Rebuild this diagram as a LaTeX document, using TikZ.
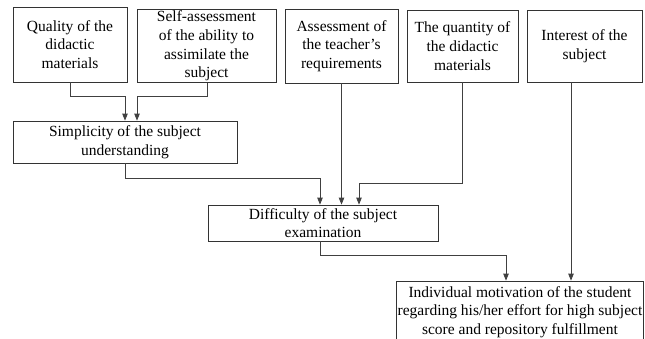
\documentclass[tikz,border=0pt]{standalone}
\usepackage{fontspec}
\setmainfont{Liberation Serif}
\usetikzlibrary{arrows.meta}

\tikzset{
	factor/.style={draw=black!80, line width=0.8pt, align=center, inner sep=1pt,
		font=\fontsize{15.5}{18.7}\selectfont},
	arr/.style={draw=black!75, line width=0.8pt, -{Triangle[length=7pt,width=5.5pt]}}
}

\begin{document}
\begin{tikzpicture}[x=1pt,y=-1pt]
\clip (0,0) rectangle (645,338);

% top row of factors
\node at (70, 44.5)[factor, minimum width=114, minimum height=75](Q){Quality of the\\didactic\\materials};
\node at (206.5, 46)[factor, minimum width=139, minimum height=72](S){Self-assessment\\of the ability to\\assimilate the\\subject};
\node at (341.5, 46)[factor, minimum width=113, minimum height=74](A){Assessment of\\the teacher’s\\requirements};
\node at (462.5, 46)[factor, minimum width=111, minimum height=72](N){The quantity of\\the didactic\\materials};
\node at (584.5, 46)[factor, minimum width=115, minimum height=72](I){Interest of the\\subject};

% intermediate levels
\node at (125, 142)[factor, minimum width=224, minimum height=42](Simp){Simplicity of the subject\\understanding};
\node at (323, 223)[factor, minimum width=230, minimum height=36](Diff){Difficulty of the subject\\examination};
\node at (520, 312)[factor, minimum width=246, minimum height=62](Ind){Individual motivation of the student\\regarding his/her effort for high subject\\score and repository fulfillment};

\draw[arr] (Q.south) -- ++(0,14) -| (Simp.north);
\draw[arr] ([xshift=1]S.south) -- ++(0,14) -| ([xshift=12]Simp.north);

\draw[arr] (Simp.south) -- ++(0,15) -| ([xshift=-3]Diff.north);
\draw[arr] (A.south) -- (A.south |- Diff.north);
\draw[arr] (N.south) -- ++(0,101) -| ([xshift=36]Diff.north);

\draw[arr] ([xshift=-3]Diff.south) -- ++(0,14) -| ([xshift=-14]Ind.north);
\draw[arr] ([xshift=-13.5]I.south) -- ([xshift=-13.5]I.south |- Ind.north);

\end{tikzpicture}
\end{document}
